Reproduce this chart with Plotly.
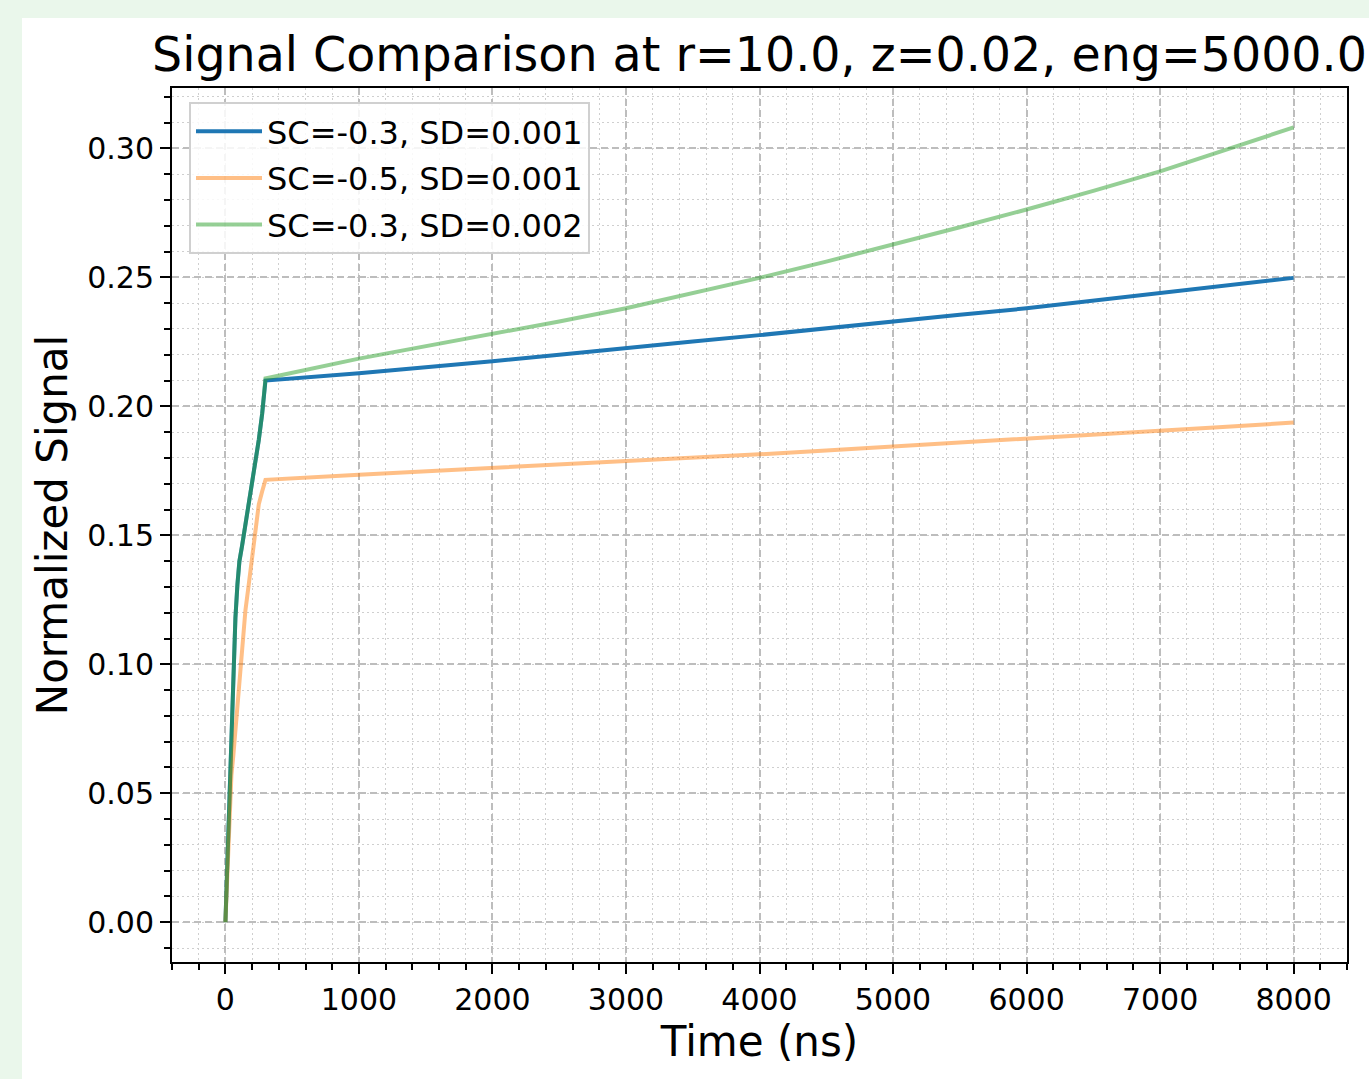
import plotly.graph_objects as go

# ---- data ----
time_ns = [0, 15, 30, 45, 60, 75, 90, 105, 125, 150, 175, 200, 225, 250, 275, 300,
           1000, 1500, 2000, 2500, 3000, 3500, 4000, 4500, 5000, 5500, 6000, 6500,
           7000, 7500, 8000]

sig_sc03_sd001 = [0.0, 0.024, 0.048, 0.073, 0.097, 0.118, 0.131, 0.140, 0.146, 0.154,
                  0.163, 0.171, 0.179, 0.187, 0.197, 0.2100,
                  0.2128, 0.2150, 0.2175, 0.2200, 0.2227, 0.2251, 0.2276, 0.2303,
                  0.2330, 0.2355, 0.2380, 0.2409, 0.2438, 0.2468, 0.2498]

sig_sc05_sd001 = [0.0, 0.020, 0.040, 0.057, 0.065, 0.074, 0.085, 0.095, 0.107, 0.121,
                  0.131, 0.141, 0.153, 0.162, 0.167, 0.1715,
                  0.1735, 0.1748, 0.1760, 0.1773, 0.1786, 0.1800, 0.1814, 0.1829,
                  0.1844, 0.1858, 0.1873, 0.1889, 0.1905, 0.1921, 0.1937]

sig_sc03_sd002 = [0.0, 0.024, 0.048, 0.073, 0.097, 0.118, 0.131, 0.140, 0.146, 0.154,
                  0.163, 0.171, 0.179, 0.187, 0.197, 0.2108,
                  0.2185, 0.2232, 0.2280, 0.2329, 0.2380, 0.2437, 0.2498, 0.2561,
                  0.2627, 0.2694, 0.2763, 0.2835, 0.2911, 0.2994, 0.3081]

series_names = ["SC=-0.3, SD=0.001", "SC=-0.5, SD=0.001", "SC=-0.3, SD=0.002"]
series_colors = ["rgba(31,119,180,1)", "rgba(255,127,14,0.5)", "rgba(44,160,44,0.5)"]

x_tickvals = [0, 1000, 2000, 3000, 4000, 5000, 6000, 7000, 8000]
y_tickvals = [0.00, 0.05, 0.10, 0.15, 0.20, 0.25, 0.30]

title_text = "Signal Comparison at r=10.0, z=0.02, eng=5000.0"
x_label = "Time (ns)"
y_label = "Normalized Signal"

FONT = "DejaVu Sans, Verdana, sans-serif"
PAGE_BG = "#eaf7eb"

fig = go.Figure()
for i, (name, ys, col) in enumerate(zip(series_names,
                                        [sig_sc03_sd001, sig_sc05_sd001, sig_sc03_sd002],
                                        series_colors)):
    fig.add_trace(go.Scatter(x=time_ns, y=ys, mode="lines", name=name,
                             line=dict(color=col, width=4),
                             legendgroup=f"g{i}"))

W, H = 1369, 1079
L, R, T, B = 172, 22, 88, 117
pw, ph = W - L - R, H - T - B

# white figure area over light-green page background
fig.add_shape(type="rect", xref="paper", yref="paper", layer="below",
              x0=(22 - L) / pw, x1=(W + 5 - L) / pw,
              y0=-(H + 5 - (H - B)) / ph, y1=((H - B) - 18) / ph,
              fillcolor="white", line=dict(width=0))

grid_major = dict(showgrid=True, gridcolor="#bdbdbd", gridwidth=1.5, griddash="7px,4px")

fig.update_xaxes(range=[-400, 8400], tickvals=x_tickvals, ticks="outside",
                 ticklen=10, tickwidth=2, tickcolor="black",
                 showline=True, linecolor="black", linewidth=2, mirror=True,
                 tickfont=dict(family=FONT, size=30, color="black"),
                 title=dict(text=x_label, font=dict(family=FONT, size=42, color="black"),
                            standoff=10),
                 zeroline=False,
                 minor=dict(dtick=200, tick0=0, ticks="outside", ticklen=6, tickwidth=1.8,
                            tickcolor="black", showgrid=True, gridcolor="#cfcfcf",
                            gridwidth=1.2, griddash="2px,3px"),
                 **grid_major)
fig.update_yaxes(range=[-0.0154, 0.3234], tickvals=y_tickvals, tickformat=".2f",
                 ticks="outside", ticklen=10, tickwidth=2, tickcolor="black",
                 showline=True, linecolor="black", linewidth=2, mirror=True,
                 tickfont=dict(family=FONT, size=30, color="black"),
                 title=dict(text=y_label, font=dict(family=FONT, size=42, color="black"),
                            standoff=7),
                 zeroline=False,
                 minor=dict(dtick=0.01, tick0=0, ticks="outside", ticklen=6, tickwidth=1.8,
                            tickcolor="black", showgrid=True, gridcolor="#cfcfcf",
                            gridwidth=1.2, griddash="2px,3px"),
                 **grid_major)

fig.update_layout(
    width=W, height=H,
    margin=dict(l=L, r=R, t=T, b=B),
    paper_bgcolor=PAGE_BG,
    plot_bgcolor="white",
    title=dict(text=title_text, x=0.5, xref="paper", xanchor="center",
               y=1 - 54 / H, yref="container", yanchor="middle",
               font=dict(family=FONT, size=47.5, color="black")),
    showlegend=True,
    legend=dict(x=(189 - L) / pw, y=1 - (102 - T) / ph, xanchor="left", yanchor="top",
                bgcolor="rgba(255,255,255,0.85)", bordercolor="#d0d0d0", borderwidth=2,
                font=dict(family=FONT, size=32, color="black"),
                tracegroupgap=2, itemwidth=66, traceorder="grouped"),
)

fig.write_html("out.html",
               config={"displayModeBar": False},
               post_script="document.body.style.margin='0';"
                           "document.body.style.background='" + PAGE_BG + "';")
